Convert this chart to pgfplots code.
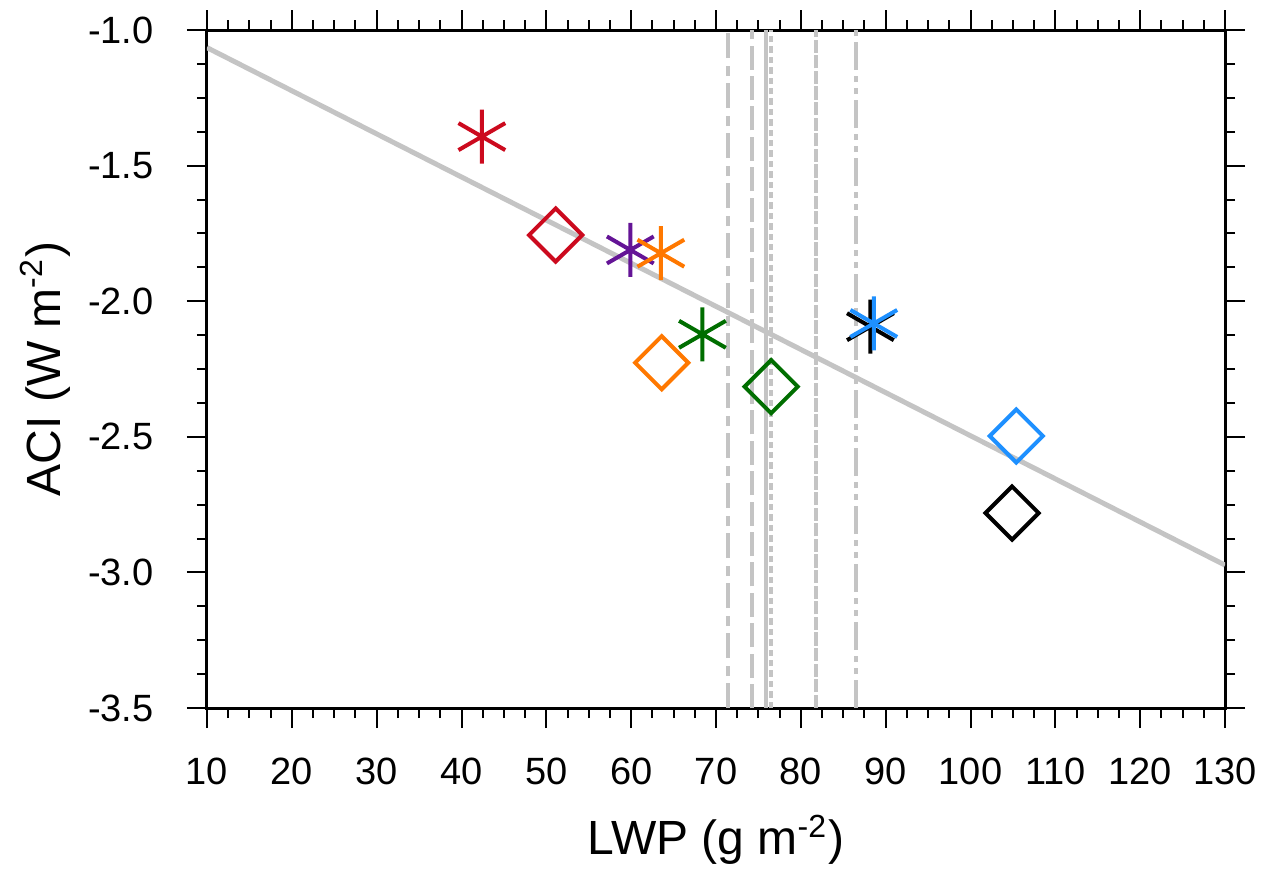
\documentclass[border=0pt]{standalone}
\usepackage{pgfplots}
\pgfplotsset{compat=1.18}
\usepackage{fontspec}
\setmainfont{Liberation Sans}

\definecolor{cred}{RGB}{204,10,30}
\definecolor{cpurple}{RGB}{100,20,150}
\definecolor{corange}{RGB}{255,120,0}
\definecolor{cgreen}{RGB}{0,110,0}
\definecolor{cblue}{RGB}{30,144,255}
\definecolor{lgrey}{RGB}{196,196,196}

\begin{document}
\begin{tikzpicture}
\path[use as bounding box] (-51.75pt,-40.25pt) rectangle (263.5pt,177pt);
\begin{axis}[
    at={(0,0)}, anchor=south west,
    scale only axis,
    width=254.5pt, height=169.5pt,
    xmin=10, xmax=130,
    ymin=-3.5, ymax=-1.0,
    xtick={10,20,...,130},
    ytick={-3.5,-3.0,-2.5,-2.0,-1.5,-1.0},
    yticklabels={-3.5,-3.0,-2.5,-2.0,-1.5,-1.0},
    /pgf/number format/assume math mode=true,
    minor tick num=3,
    tick align=outside,
    major tick length=5pt,
    minor tick length=2.5pt,
    axis line style={line width=0.75pt},
    every tick/.style={black, line width=0.5pt},
    every minor tick/.style={black, line width=0.5pt},
    ticklabel style={font=\fontsize{9.5}{11}\selectfont},
    yticklabel style={xshift=-4.8pt},
    xticklabel style={yshift=-4pt},
    xlabel={LWP (g m\textsuperscript{-2})},
    ylabel={ACI (W m\textsuperscript{-2})},
    label style={font=\fontsize{12}{14}\selectfont},
    xlabel style={at={(axis description cs:0.5,-0.1947)}, anchor=center},
    ylabel style={at={(axis description cs:-0.159,0.5)}, anchor=center},
]
% markers
\addplot[only marks, mark=asterisk, mark size=6.75pt, mark options={draw=cred, line width=1pt}] coordinates {(42.4,-1.393)};
\addplot[only marks, mark=square, mark size=4.7pt, mark options={draw=cred, line width=1pt, rotate=45}] coordinates {(51.1,-1.756)};
\addplot[only marks, mark=asterisk, mark size=6.75pt, mark options={draw=cpurple, line width=1pt}] coordinates {(59.9,-1.811)};
\addplot[only marks, mark=asterisk, mark size=6.75pt, mark options={draw=corange, line width=1pt}] coordinates {(63.5,-1.823)};
\addplot[only marks, mark=square, mark size=4.7pt, mark options={draw=corange, line width=1pt, rotate=45}] coordinates {(63.6,-2.227)};
\addplot[only marks, mark=asterisk, mark size=6.75pt, mark options={draw=cgreen, line width=1pt}] coordinates {(68.4,-2.122)};
\addplot[only marks, mark=square, mark size=4.7pt, mark options={draw=cgreen, line width=1pt, rotate=45}] coordinates {(76.5,-2.315)};
\addplot[only marks, mark=asterisk, mark size=6.75pt, mark options={draw=black, line width=1pt}] coordinates {(88.2,-2.094)};
\addplot[only marks, mark=asterisk, mark size=6.75pt, mark options={draw=cblue, line width=1pt}] coordinates {(88.6,-2.082)};
\addplot[only marks, mark=square, mark size=4.7pt, mark options={draw=cblue, line width=1pt, rotate=45}] coordinates {(105.4,-2.497)};
\addplot[only marks, mark=square, mark size=4.7pt, mark options={draw=black, line width=1pt, rotate=45}] coordinates {(104.9,-2.781)};
% regression line
\addplot[lgrey, line width=1.25pt] coordinates {(10,-1.065) (130,-2.973)};
% vertical lines
\addplot[lgrey, line width=1pt, dash pattern=on 6.25pt off 1.75pt on 2.5pt off 2pt] coordinates {(71.4,-3.5) (71.4,-1.0)};
\addplot[lgrey, line width=1pt, dash pattern=on 6pt off 1.6pt] coordinates {(74.3,-3.5) (74.3,-1.0)};
\addplot[lgrey, line width=1pt] coordinates {(75.9,-3.5) (75.9,-1.0)};
\addplot[lgrey, line width=1pt, dash pattern=on 1.6pt off 1pt] coordinates {(76.45,-3.5) (76.45,-1.0)};
\addplot[lgrey, line width=1pt, dash pattern=on 3.3pt off 0.6pt] coordinates {(81.8,-3.5) (81.8,-1.0)};
\addplot[lgrey, line width=1pt, dash pattern=on 7pt off 1.5pt on 1.5pt off 1.5pt on 1.5pt off 1.5pt] coordinates {(86.5,-3.5) (86.5,-1.0)};
\end{axis}
\end{tikzpicture}
\end{document}
